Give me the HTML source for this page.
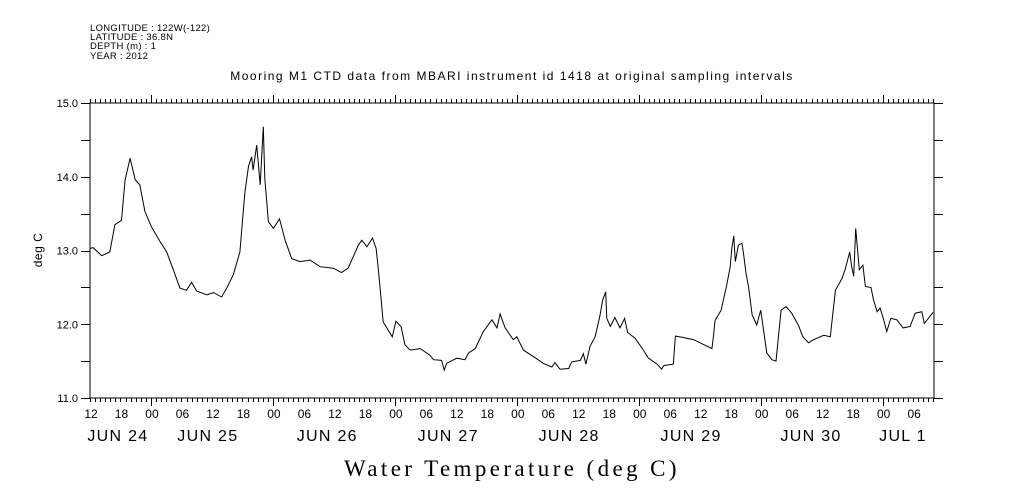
<!DOCTYPE html>
<html><head><meta charset="utf-8">
<style>
html,body{margin:0;padding:0;background:#fff;}
svg{display:block;}
text{font-family:"Liberation Sans",sans-serif;fill:#000;}
</style></head>
<body>
<svg id="chart" width="1009" height="504" viewBox="0 0 1009 504">
  <g font-size="9.5" letter-spacing="0.3">
    <text x="90" y="31">LONGITUDE : 122W(-122)</text>
    <text x="90" y="40">LATITUDE : 36.8N</text>
    <text x="90" y="49">DEPTH (m) : 1</text>
    <text x="90" y="59">YEAR : 2012</text>
  </g>
  <text x="512" y="80" font-size="12" letter-spacing="1.5" text-anchor="middle">Mooring M1 CTD data from MBARI instrument id 1418 at original sampling intervals</text>
  <text x="42" y="250" font-size="12" letter-spacing="0.5" text-anchor="middle" transform="rotate(-90 42 250)">deg C</text>
  <text x="512" y="476" font-size="23" letter-spacing="3.4" text-anchor="middle" style="font-family:'Liberation Serif',serif">Water Temperature (deg C)</text>
  <g id="axes"></g>
  <g id="series"></g>
</svg>
<script>
const hours = [0.1,0.6,2.3,3.9,4.9,6.2,6.9,7.9,8.9,9.8,10.8,12.1,13.8,15.1,16.4,17.7,19.0,20.0,21.0,23.0,24.3,25.9,26.9,28.2,29.5,30.2,30.5,31.2,31.8,32.1,32.8,33.5,34.1,34.4,35.1,36.1,37.3,38.4,39.7,41.3,43.3,45.3,47.9,49.5,50.8,52.8,53.5,54.5,55.6,56.3,56.8,57.7,59.5,60.2,60.9,61.2,62.0,63.0,65.0,66.9,67.6,69.2,69.7,70.2,72.2,73.8,74.5,75.8,77.4,79.1,80.1,80.7,81.7,83.3,84.0,85.3,87.3,89.2,90.9,91.5,92.5,94.2,94.8,96.5,97.1,97.6,98.4,99.4,100.3,100.9,101.5,101.7,102.4,103.3,104.3,105.2,105.8,107.3,108.9,109.9,111.6,112.5,112.9,114.8,115.2,116.8,118.8,122.4,122.7,123.0,124.2,125.3,126.0,126.3,126.7,127.0,127.6,128.3,128.6,129.1,129.6,130.3,131.2,132.0,133.2,134.2,135.0,136.0,137.0,138.1,139.4,140.3,141.4,142.4,144.4,145.7,146.7,148.0,148.6,149.5,149.9,150.3,150.7,151.4,152.1,152.6,153.7,154.2,154.9,155.5,156.2,156.8,157.6,158.8,160.0,161.4,162.4,163.7,164.2,165.9];
const temps = [13.03,13.04,12.93,12.98,13.35,13.41,13.96,14.25,13.96,13.89,13.53,13.32,13.12,12.98,12.74,12.49,12.46,12.57,12.45,12.40,12.43,12.37,12.49,12.67,12.98,13.57,13.80,14.14,14.27,14.09,14.43,13.89,14.68,13.98,13.39,13.30,13.43,13.14,12.89,12.85,12.87,12.78,12.76,12.70,12.76,13.07,13.14,13.05,13.17,13.03,12.71,12.03,11.83,12.04,11.99,11.97,11.72,11.65,11.67,11.58,11.52,11.51,11.38,11.47,11.54,11.52,11.61,11.67,11.90,12.06,11.95,12.14,11.95,11.79,11.83,11.65,11.56,11.47,11.42,11.48,11.39,11.40,11.49,11.51,11.60,11.46,11.70,11.83,12.10,12.33,12.44,12.08,11.97,12.09,11.95,12.08,11.89,11.81,11.65,11.54,11.46,11.39,11.44,11.46,11.84,11.82,11.79,11.67,11.84,12.05,12.19,12.53,12.78,13.03,13.20,12.85,13.07,13.10,12.96,12.69,12.51,12.13,11.99,12.19,11.61,11.52,11.50,12.19,12.24,12.15,11.99,11.83,11.75,11.79,11.85,11.83,12.46,12.62,12.74,12.98,12.78,12.65,13.30,12.74,12.80,12.51,12.50,12.33,12.17,12.22,12.06,11.90,12.08,12.06,11.95,11.97,12.15,12.17,12.01,12.16];
const yTicks = [11.0,12.0,13.0,14.0,15.0];
const hourLabels = ["12","18","00","06"];
const dayLabels = ["JUN 24","JUN 25","JUN 26","JUN 27","JUN 28","JUN 29","JUN 30","JUL 1"];
const dayLabelHours = [5.5,23.2,46.7,70.5,94.3,118.3,141.9,160.0];

const X0=90,X1=934,Y0=398,Y1=103,HMAX=166.1,VMIN=11,VMAX=15;
const xs=h=>X0+(h/HMAX)*(X1-X0);
const ys=v=>Y0-(v-VMIN)/(VMAX-VMIN)*(Y0-Y1);
const NS="http://www.w3.org/2000/svg";
function mk(tag,attrs,parent){const e=document.createElementNS(NS,tag);for(const k in attrs)e.setAttribute(k,attrs[k]);parent.appendChild(e);return e;}
const axes=document.getElementById('axes');
const frame=mk('rect',{x:X0,y:Y1,width:X1-X0,height:Y0-Y1,fill:'none',stroke:'#000','stroke-width':1},axes);


let d='';
for(let h=0;h<=HMAX;h++){
  const x=Math.round(xs(h))+0.5;
  const major=((h+12)%24===0);
  const L=major?8:4;
  d+=`M${x} ${Y0}V${Y0+L}M${x} ${Y1}V${Y1-L}`;
}
for(let v=VMIN;v<=VMAX+0.001;v+=0.5){
  const y=Math.round(ys(v))+0.5;
  d+=`M${X0} ${y}H${X0-9}M${X1} ${y}H${X1+9}`;
}
const tk=mk('path',{d:d,stroke:'#000','stroke-width':1,fill:'none'},axes);


yTicks.forEach(v=>{
  const t=mk('text',{x:78,y:ys(v)+4,'font-size':11,'text-anchor':'end'},axes);
  t.textContent=v.toFixed(1);
  
  
});
for(let i=0;i*6<=HMAX-2;i++){
  const t=mk('text',{x:xs(i*6)+1,y:418,'font-size':12,'text-anchor':'middle'},axes);
  t.textContent=hourLabels[i%4];
  
  
}
dayLabels.forEach((s,i)=>{
  const t=mk('text',{x:xs(dayLabelHours[i]),y:441,'font-size':16,'letter-spacing':1.3,'text-anchor':'middle'},axes);
  t.textContent=s;
  
  
});
const series=document.getElementById('series');
const pts=hours.map((h,i)=>xs(h).toFixed(1)+','+ys(temps[i]).toFixed(1)).join(' ');
const line=mk('polyline',{points:pts,fill:'none',stroke:'#000','stroke-width':1},series);


</script>
</body></html>
